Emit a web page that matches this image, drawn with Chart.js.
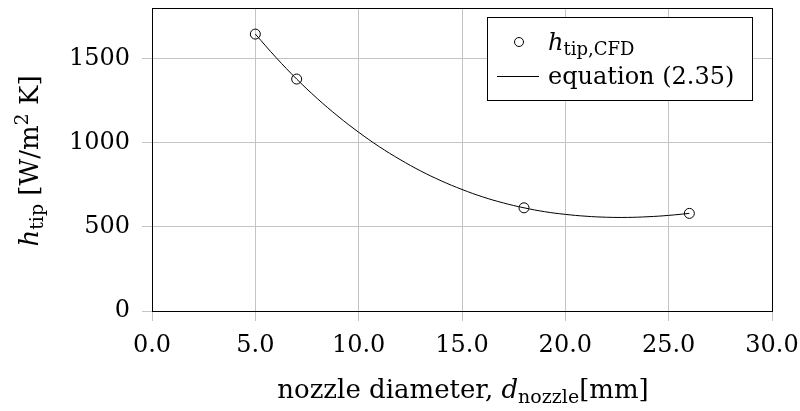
<!DOCTYPE html>
<html>
<head>
<meta charset="utf-8">
<script src="https://cdn.jsdelivr.net/npm/chart.js@4.4.0/dist/chart.umd.min.js"></script>
<style>
    html, body { margin: 0; padding: 0; background: #fff; }
    #wrap { width: 800px; height: 411px; }
</style>
</head>
<body>
<div id="wrap"><canvas id="chart" width="800" height="411"></canvas></div>
<script>
// CFD results (circles)
var cfdDiameter = [5, 7, 18, 26];
var cfdHtip = [1645, 1378, 613, 580];

// equation (2.35), values
var eqDiameter = [5, 6, 7, 8, 9, 10, 11, 12, 13, 14, 15, 16, 17, 18, 19, 20, 21, 22, 23, 24, 25, 26];
var eqHtip = [1645, 1506, 1378, 1262, 1157, 1062, 976, 900, 832, 773, 722, 678, 642, 613, 590, 574, 563, 557, 556, 560, 568, 580];

var xTicks = [0, 5, 10, 15, 20, 25, 30];
var yTicks = [0, 500, 1000, 1500];

var FONT = '"DejaVu Serif", "Liberation Serif", serif';
var GRID = '#c4c4c4';

function toPoints(xs, ys) {
    return xs.map(function (x, i) { return { x: x, y: ys[i] }; });
}

// draw a row of text runs (normal, sub, sup), starting at x
function drawRuns(ctx, runs, x, y) {
    runs.forEach(function (r) {
        ctx.font = r.font;
        ctx.fillText(r.t, x, y + (r.dy || 0));
        x += ctx.measureText(r.t).width;
    });
    return x;
}

function runsWidth(ctx, runs) {
    var w = 0;
    runs.forEach(function (r) {
        ctx.font = r.font;
        w += ctx.measureText(r.t).width;
    });
    return w;
}

var big = '24px ' + FONT;
var bigIt = 'italic 24px ' + FONT;
var small = '18px ' + FONT;
var title = '26px ' + FONT;
var titleIt = 'italic 26px ' + FONT;
var titleSub = '19px ' + FONT;

var decorations = {
    id: 'decorations',
    afterDraw: function (chart) {
        var ctx = chart.ctx;
        var a = chart.chartArea;
        ctx.save();

        // frame
        ctx.strokeStyle = '#000';
        ctx.lineWidth = 1;
        ctx.strokeRect(Math.round(a.left) + 0.5, Math.round(a.top) + 0.5,
            Math.round(a.right - a.left), Math.round(a.bottom - a.top));

        ctx.fillStyle = '#000';
        ctx.textBaseline = 'alphabetic';

        // x axis title
        var xRuns = [
            { t: 'nozzle diameter, ', font: title },
            { t: 'd', font: titleIt },
            { t: 'nozzle', font: titleSub, dy: 5 },
            { t: '[mm]', font: title }
        ];
        var w = runsWidth(ctx, xRuns);
        drawRuns(ctx, xRuns, 463 - w / 2, 398);

        // y axis title
        var yRuns = [
            { t: 'h', font: titleIt },
            { t: 'tip', font: titleSub, dy: 5 },
            { t: ' [W/m', font: title },
            { t: '2', font: titleSub, dy: -10 },
            { t: ' K]', font: title }
        ];
        w = runsWidth(ctx, yRuns);
        ctx.save();
        ctx.translate(38, 161);
        ctx.rotate(-Math.PI / 2);
        drawRuns(ctx, yRuns, -w / 2, 0);
        ctx.restore();

        // legend
        var lx = 487.5, ly = 17.5, lw = 265, lh = 83;
        ctx.fillStyle = '#fff';
        ctx.fillRect(lx, ly, lw, lh);
        ctx.strokeStyle = '#000';
        ctx.strokeRect(lx, ly, lw, lh);

        ctx.beginPath();
        ctx.arc(519, 42, 4.5, 0, Math.PI * 2);
        ctx.stroke();

        ctx.beginPath();
        ctx.moveTo(497, 76.5);
        ctx.lineTo(539, 76.5);
        ctx.stroke();

        ctx.fillStyle = '#000';
        drawRuns(ctx, [
            { t: 'h', font: bigIt },
            { t: 'tip,CFD', font: small, dy: 5 }
        ], 548, 50);
        drawRuns(ctx, [{ t: 'equation (2.35)', font: big }], 548, 84);

        ctx.restore();
    }
};

new Chart(document.getElementById('chart'), {
    type: 'scatter',
    data: {
        datasets: [
            {
                label: 'h_tip,CFD',
                data: toPoints(cfdDiameter, cfdHtip),
                showLine: false,
                pointStyle: 'circle',
                pointRadius: 5,
                pointBorderWidth: 1,
                pointBorderColor: '#000',
                pointBackgroundColor: 'rgba(0,0,0,0)',
                order: 0
            },
            {
                label: 'equation (2.35)',
                data: toPoints(eqDiameter, eqHtip),
                showLine: true,
                borderColor: '#000',
                borderWidth: 1,
                pointRadius: 0,
                tension: 0.4,
                order: 1
            }
        ]
    },
    options: {
        responsive: false,
        animation: false,
        events: [],
        layout: { padding: { top: 8, right: 28, left: 0, bottom: 0 } },
        plugins: {
            legend: { display: false },
            tooltip: { enabled: false }
        },
        scales: {
            x: {
                type: 'linear',
                min: 0,
                max: 30,
                afterFit: function (s) {
                    s.height = 100;
                    s.paddingLeft = 0;
                    s.paddingRight = 0;
                },
                afterBuildTicks: function (s) {
                    s.ticks = xTicks.map(function (v) { return { value: v }; });
                },
                ticks: {
                    color: '#000',
                    font: { family: FONT, size: 24 },
                    padding: 10,
                    maxRotation: 0,
                    callback: function (v) { return v.toFixed(1); }
                },
                grid: { color: GRID, tickLength: 10, tickColor: GRID },
                border: { display: false }
            },
            y: {
                type: 'linear',
                min: 0,
                max: 1800,
                afterFit: function (s) {
                    s.width = 152;
                    s.paddingTop = 0;
                    s.paddingBottom = 0;
                },
                afterBuildTicks: function (s) {
                    s.ticks = yTicks.map(function (v) { return { value: v }; });
                },
                ticks: {
                    color: '#000',
                    font: { family: FONT, size: 24 },
                    padding: 12,
                    callback: function (v) { return String(v); }
                },
                grid: { color: GRID, tickLength: 10, tickColor: GRID },
                border: { display: false }
            }
        }
    },
    plugins: [decorations]
});
</script>
</body>
</html>
